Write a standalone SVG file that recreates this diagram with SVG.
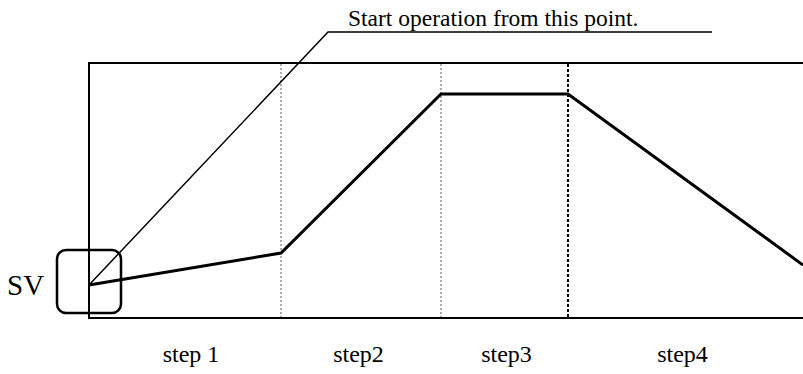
<svg xmlns="http://www.w3.org/2000/svg" width="803" height="374" viewBox="0 0 803 374">
  <style>
    text { font-family: 'Liberation Serif', 'DejaVu Serif', serif; fill: #000; }
    .frame { fill: none; stroke: #000; stroke-width: 2; }
    .grid { stroke: #555; stroke-width: 1; stroke-dasharray: 2 2; }
    .grid-bold { stroke: #000; stroke-width: 2; stroke-dasharray: 3 2; }
    .profile { fill: none; stroke: #000; stroke-width: 3; stroke-linejoin: miter; }
    .leader { fill: none; stroke: #000; stroke-width: 1.5; }
  </style>
  <rect width="803" height="374" fill="#fff"/>

  <!-- chart frame (open on the right) -->
  <g id="frame">
    <polyline class="frame" points="803,63 89,63 89,318 803,318"/>
  </g>

  <!-- step boundaries -->
  <g id="step-boundaries">
    <line class="grid" x1="281" y1="64" x2="281" y2="317"/>
    <line class="grid" x1="441" y1="64" x2="441" y2="317"/>
    <line class="grid-bold" x1="568" y1="64" x2="568" y2="317"/>
  </g>

  <!-- program profile -->
  <g id="profile">
    <polyline class="profile" points="89,285 281,253 441,94 568,94 803,265"/>
  </g>

  <!-- SV start marker -->
  <g id="sv-marker">
    <rect x="57" y="250" width="64" height="63" rx="9" ry="9" fill="none" stroke="#000" stroke-width="2.5"/>
    <text x="7" y="295" font-size="29" font-family="Liberation Serif, serif">SV</text>
  </g>

  <!-- callout -->
  <g id="connectors">
    <polyline class="leader" points="89,285 328,32 712,32"/>
  </g>
  <g id="callout">
    <text x="348" y="26" font-size="23.5" font-family="Liberation Serif, serif">Start operation from this point.</text>
  </g>

  <!-- step labels -->
  <g id="step-labels" font-size="24" text-anchor="middle" font-family="Liberation Serif, serif">
    <text x="191" y="362">step 1</text>
    <text x="358.5" y="362">step2</text>
    <text x="506.5" y="362">step3</text>
    <text x="682.5" y="362">step4</text>
  </g>
</svg>
